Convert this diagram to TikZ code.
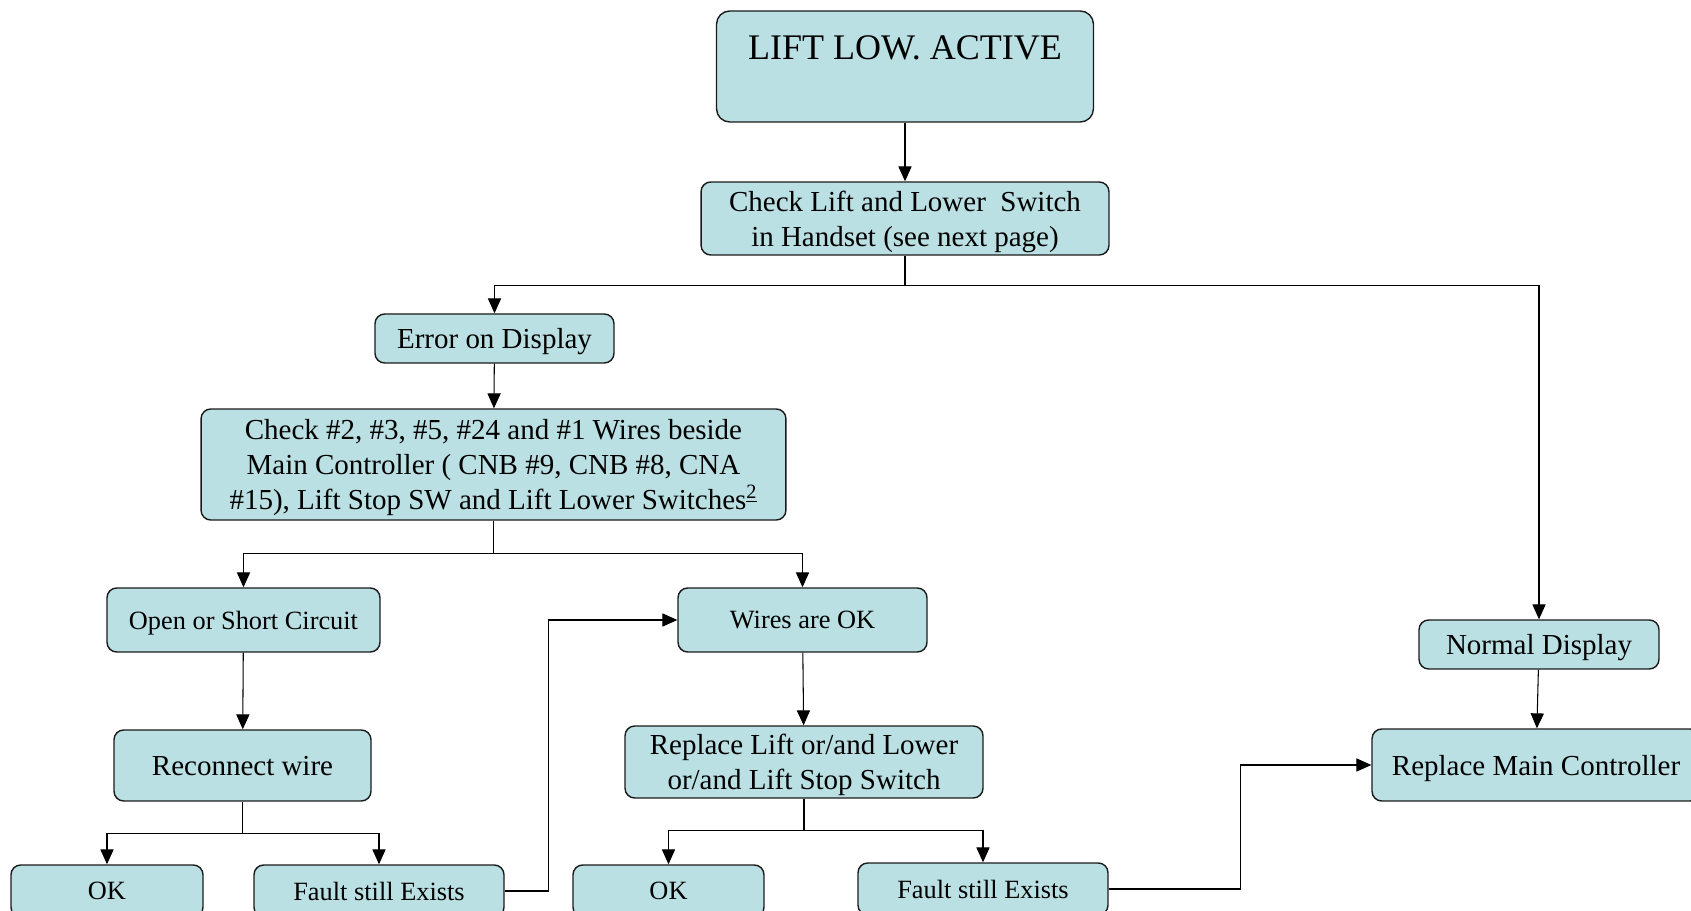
\documentclass[tikz,border=0pt]{standalone}
\usepackage{fontspec}
\setmainfont{Liberation Serif}
\usepackage{tikz}
\usetikzlibrary{arrows.meta,positioning}
\definecolor{liftfill}{HTML}{BAE0E3}
\definecolor{liftline}{HTML}{1A1A1A}

\begin{document}
\begin{tikzpicture}[x=0.02cm, y=-0.02cm,
  flowbox/.style={fill=liftfill, draw=liftline, line width=0.8pt, rounded corners=5.5pt, align=center, inner sep=2pt, text depth=0pt, font=\fontsize{16.5}{20}\selectfont},
  smallbox/.style={flowbox, font=\fontsize{15}{18}\selectfont},
  titlebox/.style={flowbox, rounded corners=7.5pt, font=\fontsize{20.5}{25}\selectfont},
  flowarrow/.style={line width=0.6pt, -{Triangle[length=8.5pt, width=7.5pt]}}
]
  \useasboundingbox (0,0) rectangle (1691,911);
  \clip (0,0) rectangle (1691,911);

  \node[titlebox, minimum width=7.54cm, minimum height=2.22cm] (lift) at (905,66.5) {LIFT LOW. ACTIVE\\[-4pt]\mbox{}};
  \node[flowbox, minimum width=8.16cm, minimum height=1.46cm] (handset) at (905,218.5) {Check Lift and Lower\ \ Switch\\in Handset (see next page)};
  \node[flowbox, minimum width=4.78cm, minimum height=0.98cm] (errdisp) at (494.5,338.5) {Error on Display};
  \node[flowbox, minimum width=11.7cm, minimum height=2.22cm] (wirechk) at (493.5,464.5) {Check \#2, \#3, \#5, \#24 and \#1 Wires beside\\Main Controller ( CNB \#9, CNB \#8, CNA\\\#15), Lift Stop SW and Lift Lower Switches\textsuperscript{\underline{2}}};
  \node[smallbox, minimum width=5.46cm, minimum height=1.28cm] (opencct) at (243.5,620) {Open or Short Circuit};
  \node[smallbox, minimum width=4.98cm, minimum height=1.28cm] (wiresok) at (802.5,620) {Wires are OK};
  \node[flowbox, minimum width=5.14cm, minimum height=1.42cm] (reconn) at (242.5,765.5) {Reconnect wire};
  \node[flowbox, minimum width=7.16cm, minimum height=1.44cm] (replsw) at (804,762) {Replace Lift or/and Lower\\or/and Lift Stop Switch};
  \node[flowbox, minimum width=4.8cm, minimum height=0.98cm] (normdisp) at (1539,644.5) {Normal Display};
  \node[flowbox, minimum width=6.56cm, minimum height=1.44cm] (replmc) at (1536,765) {Replace Main Controller};
  \node[smallbox, minimum width=3.84cm, minimum height=1.04cm] (okA) at (107,891) {OK};
  \node[smallbox, minimum width=5cm, minimum height=1.04cm] (faultA) at (379,891) {Fault still Exists};
  \node[smallbox, minimum width=3.82cm, minimum height=1.04cm] (okB) at (668.5,891) {OK};
  \node[smallbox, minimum width=5cm, minimum height=1.04cm] (faultB) at (983,889) {Fault still Exists};

  % connectors
  \draw[flowarrow] (lift) -- (handset);
  \draw[flowarrow] (handset.south) -- ++(0,30) -| (errdisp.north);
  \draw[flowarrow] (handset.south) -- ++(0,30) -| (normdisp.north);
  \draw[flowarrow] (errdisp) -- (wirechk);
  \draw[flowarrow] (wirechk.south) -- ++(0,33) -| (opencct.north);
  \draw[flowarrow] (wirechk.south) -- ++(0,33) -| (wiresok.north);
  \draw[flowarrow] (opencct) -- (reconn);
  \draw[flowarrow] (reconn.south) -- ++(0,32) -| (okA.north);
  \draw[flowarrow] (reconn.south) -- ++(0,32) -| (faultA.north);
  \draw[flowarrow] (faultA.east) -- ++(44,0) |- (wiresok.west);
  \draw[flowarrow] (wiresok) -- (replsw);
  \draw[flowarrow] (replsw.south) -- ++(0,32) -| (okB.north);
  \draw[flowarrow] (replsw.south) -- ++(0,32) -| (faultB.north);
  \draw[flowarrow] (faultB.east) -- ++(132,0) |- (replmc.west);
  \draw[flowarrow] (normdisp) -- (replmc);
\end{tikzpicture}
\end{document}
